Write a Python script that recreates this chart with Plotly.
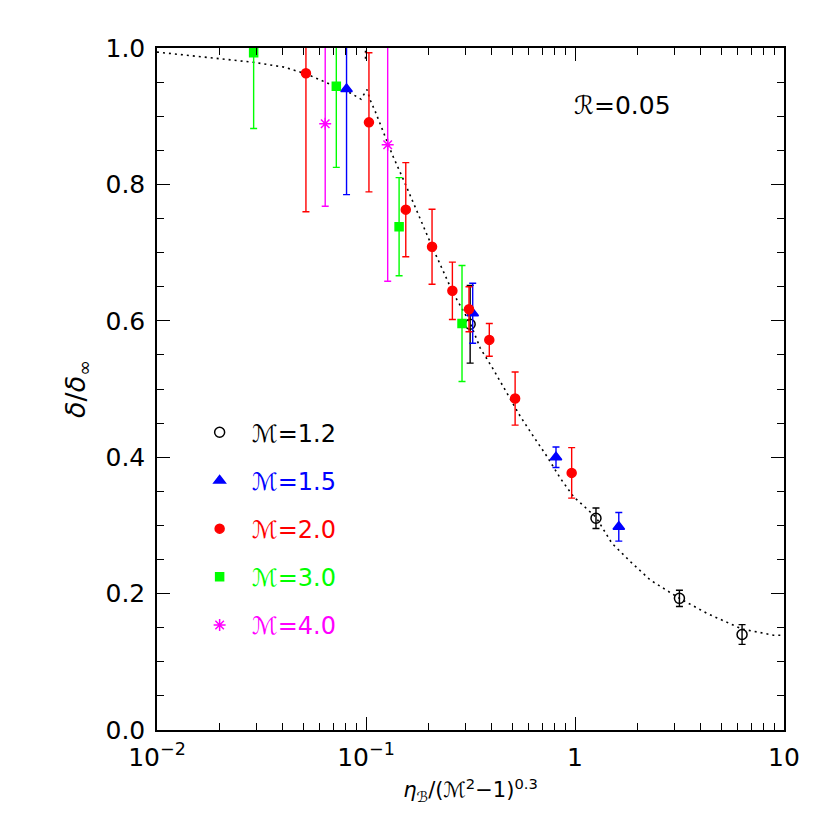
import plotly.graph_objects as go

# --- data ------------------------------------------------------------------
m12_x = [0.315, 1.26, 3.16, 6.30]
m12_y = [0.595, 0.3105, 0.193, 0.140]
m12_err = [0.057, 0.015, 0.012, 0.0145]

m15_x = [0.0807, 0.324, 0.811, 1.62]
m15_y = [0.940, 0.611, 0.400, 0.298]
m15_err = [0.155, 0.044, 0.015, 0.021]

m20_x = [0.0516, 0.1033, 0.155, 0.207, 0.259, 0.311, 0.389, 0.517, 0.964]
m20_y = [0.963, 0.891, 0.763, 0.7085, 0.644, 0.617, 0.572, 0.486, 0.377]
m20_err = [0.203, 0.102, 0.069, 0.055, 0.042, 0.033, 0.024, 0.039, 0.037]

m30_x = [0.029, 0.0721, 0.144, 0.288]
m30_y = [0.993, 0.944, 0.738, 0.596]
m30_err = [0.111, 0.119, 0.072, 0.085]

m40_x = [0.0638, 0.127]
m40_y = [0.889, 0.858]
m40_err = [0.121, 0.200]

# dotted fit curve
curve_x = [0.010, 0.0145, 0.0209, 0.029, 0.0405, 0.0518, 0.0627, 0.0705, 0.0747,
           0.0841, 0.0946, 0.101, 0.105, 0.1107, 0.1188, 0.1269, 0.1336, 0.151,
           0.182, 0.207, 0.253, 0.272, 0.315, 0.352, 0.408, 0.473, 0.547, 0.634,
           0.735, 0.851, 0.985, 1.26, 1.50, 1.84, 2.29, 3.16, 4.28, 6.30, 8.92, 10.0,
           None, 0.0995, 0.0995]
curve_y = [0.994, 0.989, 0.984, 0.979, 0.972, 0.962, 0.951, 0.945, 0.941,
           0.934, 0.925, 0.939, 0.923, 0.907, 0.8835, 0.8615, 0.8435, 0.807,
           0.748, 0.709, 0.650, 0.631, 0.597, 0.560, 0.528, 0.494, 0.460, 0.430,
           0.401, 0.369, 0.342, 0.312, 0.274, 0.247, 0.220, 0.193, 0.171, 0.148, 0.139, 0.139,
           None, 0.996, 0.981]

x_tickvals = [0.01, 0.1, 1, 10]
x_ticktext = ["10<sup>\u22122</sup>", "10<sup>\u22121</sup>", "1", "10"]

FONT = "DejaVu Sans, Liberation Sans, sans-serif"

series = [
    ("\u2133=1.2", m12_x, m12_y, m12_err, "#000000", "circle-open", 10),
    ("\u2133=1.5", m15_x, m15_y, m15_err, "#0000FF", "triangle-up", 10),
    ("\u2133=2.0", m20_x, m20_y, m20_err, "#FF0000", "circle", 9),
    ("\u2133=3.0", m30_x, m30_y, m30_err, "#00FF00", "square", 8),
    ("\u2133=4.0", m40_x, m40_y, m40_err, "#FF00FF", "asterisk-open", 10),
]

fig = go.Figure()

fig.add_trace(go.Scatter(
    x=curve_x, y=curve_y, mode="lines",
    line=dict(color="black", width=1.6, dash="2px,4px"),
    showlegend=False, hoverinfo="skip",
))

for i, (name, xs, ys, err, color, symbol, size) in enumerate(series):
    fig.add_trace(go.Scatter(
        x=xs, y=ys, mode="markers",
        name=f"<span style='color:{color}'>\u00a0\u2009{name}</span>",
        legendgroup=f"g{i}",
        marker=dict(symbol=symbol, size=size, color=color,
                    line=dict(color=color, width=1.5)),
        error_y=dict(type="data", array=err, visible=True,
                     color=color, thickness=1.4, width=3.5),
    ))

fig.add_annotation(
    x=0.742, y=0.915, xref="paper", yref="paper",
    xanchor="center", yanchor="middle",
    text="\u211b=0.05", showarrow=False,
    font=dict(family=FONT, size=25, color="black"),
)

minor_x = [m * 10 ** k for k in (-2, -1, 0) for m in range(2, 10)]

# the page body adds an 8px offset, so the margins are reduced by that much
fig.update_layout(
    width=830, height=830,
    margin=dict(l=149, r=54, t=40, b=108, autoexpand=False),
    paper_bgcolor="white", plot_bgcolor="white",
    font=dict(family=FONT, size=25, color="black"),
    showlegend=True,
    legend=dict(
        x=0.068, y=0.469, xanchor="left", yanchor="top",
        bgcolor="rgba(0,0,0,0)", borderwidth=0,
        font=dict(family=FONT, size=24),
        tracegroupgap=14,
    ),
)

fig.update_xaxes(
    type="log", range=[-2, 1], automargin=False,
    tickvals=x_tickvals, ticktext=x_ticktext,
    ticks="inside", ticklen=13, tickwidth=1, tickcolor="black",
    ticklabelstandoff=4,
    showline=True, linecolor="black", linewidth=1.5, mirror="ticks",
    showgrid=False, zeroline=False,
    minor=dict(tickvals=minor_x, ticks="inside", ticklen=7, tickwidth=1,
               tickcolor="black", showgrid=False),
    title=dict(text="<i>\u03b7</i><sub>\u212c</sub>/(\u2133<sup>2</sup>\u22121)<sup>0.3</sup>",
               font=dict(size=21), standoff=12),
)

fig.update_yaxes(
    range=[0, 1.0], tick0=0, dtick=0.2, tickformat=".1f", automargin=False,
    ticks="inside", ticklen=13, tickwidth=1, tickcolor="black",
    ticklabelstandoff=5,
    showline=True, linecolor="black", linewidth=1.5, mirror="ticks",
    showgrid=False, zeroline=False,
    minor=dict(dtick=0.05, ticks="inside", ticklen=7, tickwidth=1,
               tickcolor="black", showgrid=False),
    title=dict(text="<i>\u03b4</i>/<i>\u03b4</i><sub>\u221e</sub>",
               font=dict(size=27), standoff=12),
)

fig.write_html("out.html")
